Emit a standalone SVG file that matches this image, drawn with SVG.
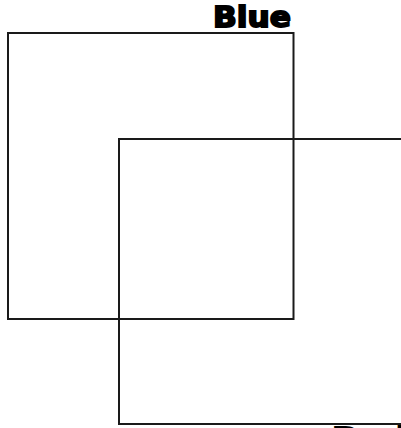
<svg xmlns="http://www.w3.org/2000/svg" width="401" height="428" viewBox="0 0 401 428">
<style>
.box{fill:none;stroke:#1a1a1a;stroke-width:2}
.lbl{font-family:"DejaVu Sans","Liberation Sans",sans-serif;font-weight:900;font-size:28px;fill:#000;stroke:#000;stroke-width:1.8}
</style>
<rect width="401" height="428" fill="#fff"/>
<g id="blue">
<rect class="box" x="8" y="33" width="285.5" height="286"/>
<text class="lbl" x="213" y="27" textLength="78" lengthAdjust="spacingAndGlyphs">Blue</text>
</g>
<g id="red">
<rect class="box" x="119" y="139" width="286" height="285"/>
<text class="lbl" x="332" y="448" textLength="76" lengthAdjust="spacingAndGlyphs">Red</text>
</g>
<g id="connectors"></g>
</svg>
